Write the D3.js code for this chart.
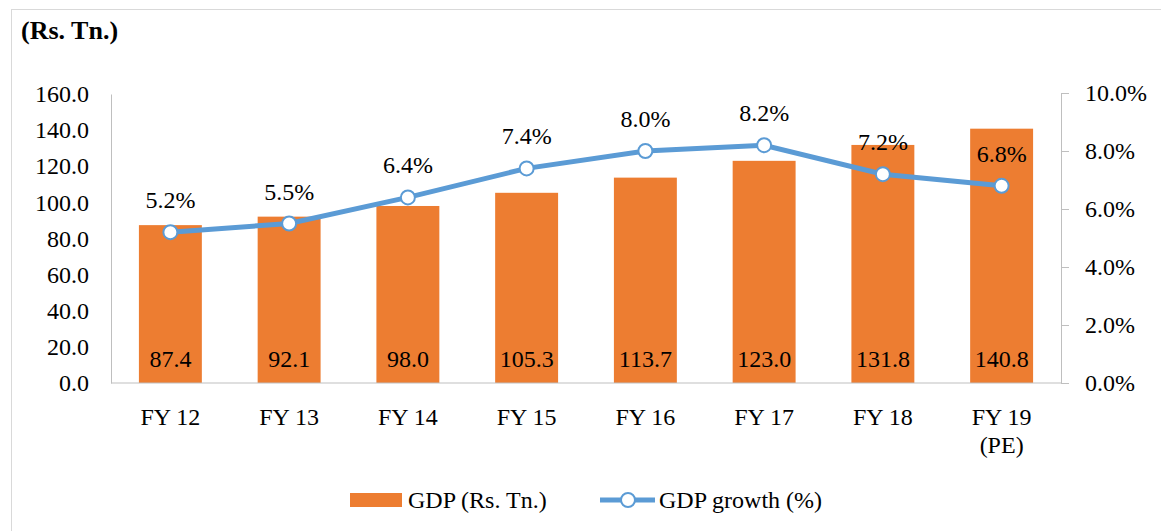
<!DOCTYPE html>
<html lang="en">
<head>
    <meta charset="UTF-8">
    <title>gdp-chart</title>
    <style>
        body {
            margin: 0;
            background: #fff;
            font-family: "Liberation Serif", "Times New Roman", serif;
        }
    </style>
    <script src="https://d3js.org/d3.v7.min.js"></script>
</head>
<body>

<script>

    // data
    let categories = ["FY 12", "FY 13", "FY 14", "FY 15", "FY 16", "FY 17", "FY 18", "FY 19|(PE)"]
    let gdpValues = [87.4, 92.1, 98.0, 105.3, 113.7, 123.0, 131.8, 140.8]
    let growthValues = [5.2, 5.5, 6.4, 7.4, 8.0, 8.2, 7.2, 6.8]
    let leftTicks = [0, 20, 40, 60, 80, 100, 120, 140, 160]
    let rightTicks = [0, 2, 4, 6, 8, 10]

    let barColor = "#ED7D31"
    let lineColor = "#5B9BD5"
    let axisColor = "#BFBFBF"
    let fontSize = 24

    let width = 1161;
    let height = 531;
    let margin = {left: 111, right: 100, top: 94, bottom: 148}

    let svg = d3.select("body").append("svg")
        .attr("width", width)
        .attr("height", height)
        .style("font-family", "'Liberation Serif', serif")

    // outer frame
    svg.append("rect")
        .attr("x", 11.5).attr("y", 9.5)
        .attr("width", width).attr("height", height)
        .attr("fill", "#fff")
        .attr("stroke", "#D9D9D9")

    svg.append("text")
        .attr("x", 21).attr("y", 39)
        .attr("font-weight", "bold")
        .attr("font-size", 26)
        .text("(Rs. Tn.)")

    let x = d3.scaleBand()
        .domain(categories)
        .range([margin.left, width - margin.right])
        .paddingInner(0.47)
        .paddingOuter(0.235)

    let yLeft = d3.scaleLinear()
        .domain([0, 160])
        .range([height - margin.bottom, margin.top])

    let yRight = d3.scaleLinear()
        .domain([0, 10])
        .range([height - margin.bottom, margin.top - 1])

    // bars
    svg.append("g")
        .selectAll("rect")
        .data(gdpValues)
        .enter()
        .append("rect")
        .attr("x", (d, i) => x(categories[i]))
        .attr("width", x.bandwidth())
        .attr("y", d => yLeft(d))
        .attr("height", d => yLeft(0) - yLeft(d))
        .attr("fill", barColor)

    // bar labels
    svg.append("g")
        .selectAll("text")
        .data(gdpValues)
        .enter()
        .append("text")
        .attr("x", (d, i) => x(categories[i]) + x.bandwidth() / 2)
        .attr("y", yLeft(0) - 16)
        .attr("text-anchor", "middle")
        .attr("font-size", fontSize)
        .text(d => d.toFixed(1))

    // left axis
    let leftAxis = svg.append("g")
        .attr("transform", "translate(" + margin.left + ",0)")
        .call(d3.axisLeft(yLeft).tickValues(leftTicks).tickSize(0).tickPadding(22).tickFormat(d3.format(".1f")))
    leftAxis.attr("font-family", null)
    leftAxis.select(".domain").attr("stroke", axisColor)
    leftAxis.selectAll("text").attr("font-size", fontSize).attr("fill", "#000")

    // right axis
    let rightAxis = svg.append("g")
        .attr("transform", "translate(" + (width - margin.right) + ",0)")
        .call(d3.axisRight(yRight).tickValues(rightTicks).tickSize(8).tickSizeOuter(8).tickPadding(16).tickFormat(d => d.toFixed(1) + "%"))
    rightAxis.attr("font-family", null)
    rightAxis.select(".domain").attr("stroke", axisColor)
    rightAxis.selectAll(".tick line").attr("stroke", axisColor)
    rightAxis.selectAll("text").attr("font-size", fontSize).attr("fill", "#000")

    // baseline
    svg.append("line")
        .attr("x1", margin.left).attr("x2", width - margin.right)
        .attr("y1", yLeft(0)).attr("y2", yLeft(0))
        .attr("stroke", axisColor)

    // category labels
    let catLabels = svg.append("g")
        .selectAll("text")
        .data(categories)
        .enter()
        .append("text")
        .attr("x", d => x(d) + x.bandwidth() / 2)
        .attr("y", height - margin.bottom + 42)
        .attr("text-anchor", "middle")
        .attr("font-size", fontSize)
    catLabels.selectAll("tspan")
        .data(d => d.split("|"))
        .enter()
        .append("tspan")
        .attr("x", function () { return d3.select(this.parentNode).attr("x") })
        .attr("dy", (d, i) => i === 0 ? 0 : 28)
        .text(d => d)

    // growth line
    let line = d3.line()
        .x((d, i) => x(categories[i]) + x.bandwidth() / 2)
        .y(d => yRight(d))

    svg.append("path")
        .datum(growthValues)
        .attr("d", line)
        .attr("fill", "none")
        .attr("stroke", lineColor)
        .attr("stroke-width", 5)

    svg.append("g")
        .selectAll("circle")
        .data(growthValues)
        .enter()
        .append("circle")
        .attr("cx", (d, i) => x(categories[i]) + x.bandwidth() / 2)
        .attr("cy", d => yRight(d))
        .attr("r", 7)
        .attr("fill", "#fff")
        .attr("stroke", lineColor)
        .attr("stroke-width", 2)

    svg.append("g")
        .selectAll("text")
        .data(growthValues)
        .enter()
        .append("text")
        .attr("x", (d, i) => x(categories[i]) + x.bandwidth() / 2)
        .attr("y", d => yRight(d) - 24)
        .attr("text-anchor", "middle")
        .attr("font-size", fontSize)
        .text(d => d.toFixed(1) + "%")

    // legend
    let legend = svg.append("g")
    legend.append("rect")
        .attr("x", 350).attr("y", 493)
        .attr("width", 52).attr("height", 14)
        .attr("fill", barColor)
    legend.append("text")
        .attr("x", 408).attr("y", 508)
        .attr("font-size", fontSize)
        .text("GDP (Rs. Tn.)")
    legend.append("line")
        .attr("x1", 600).attr("x2", 655)
        .attr("y1", 500).attr("y2", 500)
        .attr("stroke", lineColor)
        .attr("stroke-width", 5)
    legend.append("circle")
        .attr("cx", 628).attr("cy", 500)
        .attr("r", 7)
        .attr("fill", "#fff")
        .attr("stroke", lineColor)
        .attr("stroke-width", 2)
    legend.append("text")
        .attr("x", 659).attr("y", 508)
        .attr("font-size", fontSize)
        .text("GDP growth (%)")

</script>

</body>
</html>
